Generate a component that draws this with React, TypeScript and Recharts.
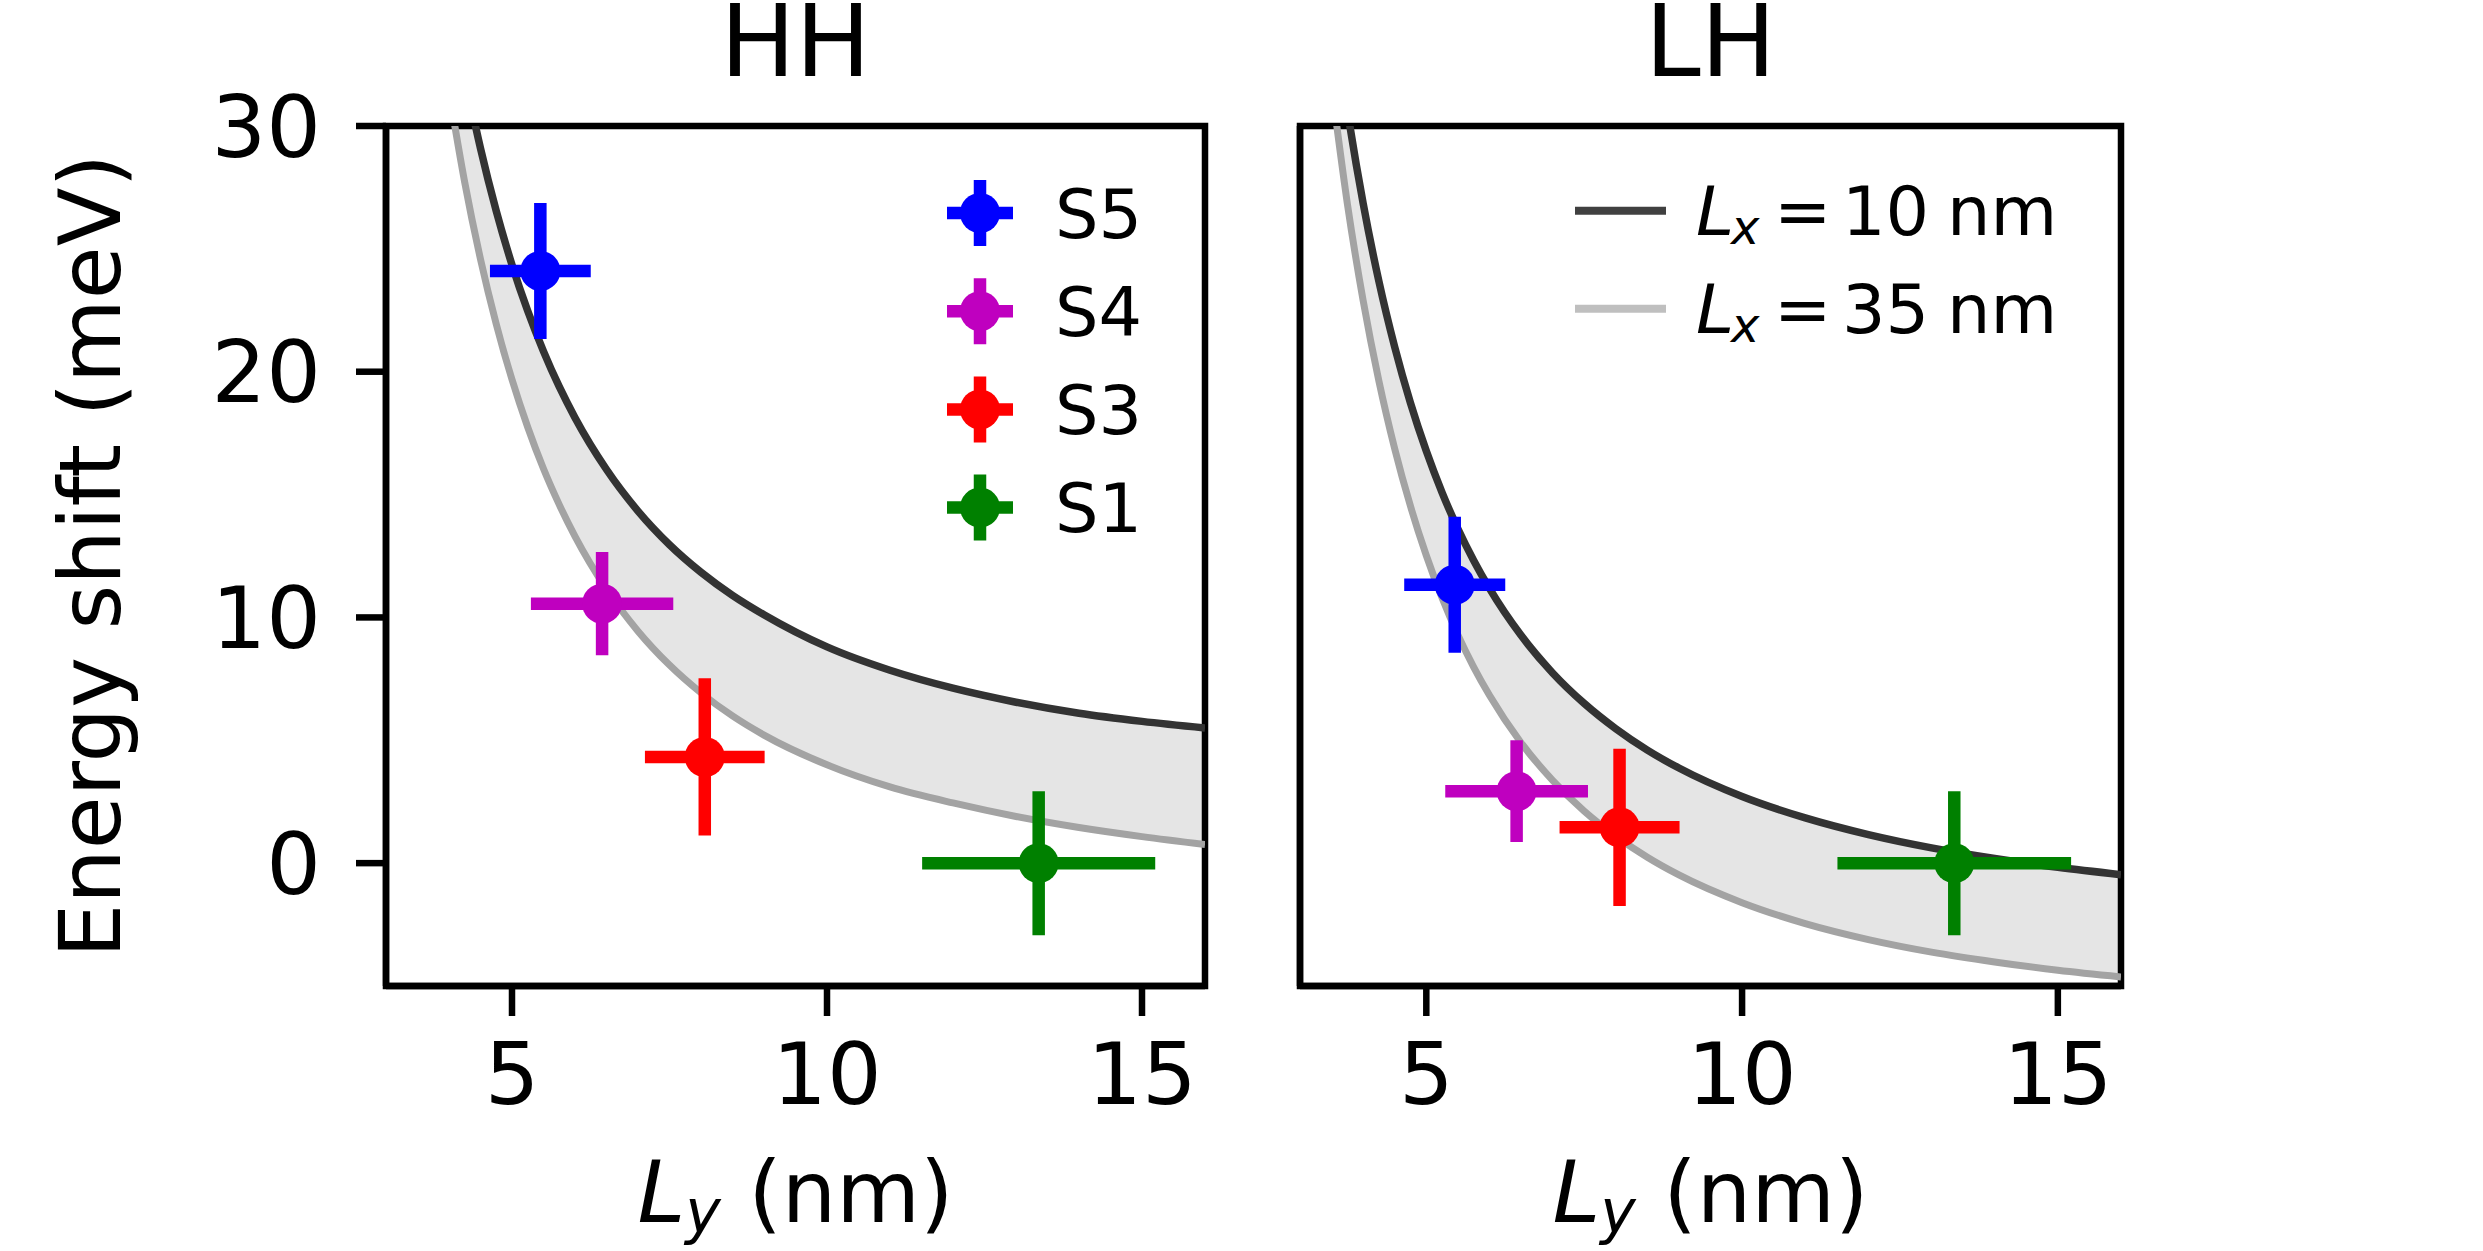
import React from 'react';
import { ComposedChart, Line, Area, Scatter, ErrorBar, XAxis, YAxis, ReferenceArea, Label, Legend } from 'recharts';

const FONT = '"DejaVu Sans", sans-serif';

// measured samples (same Ly for both bands)
const samples = ['S5', 'S4', 'S3', 'S1'];
const sampleColors = ['#0000ff', '#bf00bf', '#ff0000', '#008000'];
const sampleLy = [5.45, 6.43, 8.06, 13.36];
const sampleLyErr = [0.8, 1.13, 0.95, 1.85];

const hhShift = [24.1, 10.56, 4.32, 0];
const hhShiftErr = [2.77, 2.1, 3.2, 2.93];
const lhShift = [11.33, 2.93, 1.46, 0];
const lhShiftErr = [2.77, 2.07, 3.2, 2.93];

// model curves
const hhGrid = [4.0, 4.25, 4.5, 4.75, 5.0, 5.25, 5.5, 5.75, 6.0, 6.5, 7.0, 7.5, 8.0, 8.5, 9, 10, 11, 12, 13, 14, 15, 16];
const hhDark = [35.68, 32.1, 29.09, 26.54, 24.35, 22.47, 20.83, 19.39, 18.13, 16.02, 14.33, 12.96, 11.84, 10.9, 10.11, 8.8, 7.85, 7.12, 6.55, 6.1, 5.77, 5.5];
const hhLight = [31.42, 27.7, 24.58, 21.94, 19.68, 17.74, 16.05, 14.59, 13.3, 11.15, 9.44, 8.06, 6.93, 5.99, 5.21, 4.0, 3.1, 2.45, 1.9, 1.45, 1.08, 0.76];

const lhGrid = [3.5, 3.75, 4.0, 4.25, 4.5, 4.75, 5.0, 5.25, 5.5, 5.75, 6.0, 6.5, 7.0, 7.5, 8.0, 8.5, 9, 10, 11, 12, 13, 14, 15, 16];
const lhDark = [35.29, 30.66, 26.85, 23.67, 21.0, 18.72, 16.77, 15.08, 13.61, 12.32, 11.18, 9.27, 7.74, 6.5, 5.47, 4.6, 3.87, 2.71, 1.84, 1.16, 0.62, 0.19, -0.17, -0.47];
const lhLight = [31.65, 26.84, 22.89, 19.61, 16.86, 14.52, 12.52, 10.79, 9.29, 7.98, 6.83, 4.9, 3.37, 2.12, 1.1, 0.24, -0.48, -1.61, -2.46, -3.11, -3.62, -4.02, -4.36, -4.63];

const curveUnits = ['10', '35'];
const darkColor = '#333333';
const lightColor = '#a3a3a3';
const legendLineColors = ['#404040', '#bfbfbf'];

const xTicks = [5, 10, 15];
const yTicks = [0, 10, 20, 30];

const AX = 6.5;

const SampleLegend = () => (
  <svg width={300} height={400}>
    {samples.map((s, i) => {
      const cy = 53 + i * 98.2;
      const c = sampleColors[i];
      return (
        <g key={s}>
          <line x1={17} x2={83} y1={cy} y2={cy} stroke={c} strokeWidth={12.5} />
          <line x1={50} x2={50} y1={cy - 33} y2={cy + 33} stroke={c} strokeWidth={12.5} />
          <circle cx={50} cy={cy} r={20} fill={c} />
          <text x={125} y={cy + 24.5} fontSize={68.5} fontFamily={FONT} fill="#000">{s}</text>
        </g>
      );
    })}
  </svg>
);

const CurveLegend = () => (
  <svg width={540} height={220}>
    {curveUnits.map((u, i) => {
      const cy = 50.7 + i * 98;
      return (
        <g key={u}>
          <line x1={25} x2={116} y1={cy} y2={cy} stroke={legendLineColors[i]} strokeWidth={8} />
          <text y={cy + 24.5} fontSize={68.5} fontFamily={FONT} fill="#000">
            <tspan x={146} fontStyle="italic">L</tspan>
            <tspan x={181} dy={9} fontStyle="italic" fontSize={48}>x</tspan>
            <tspan x={224} dy={-9}>=</tspan>
            <tspan x={292}>{u}</tspan>
            <tspan x={397}>nm</tspan>
          </text>
        </g>
      );
    })}
  </svg>
);

const YLabel = (props: any) => {
  const vb = props.viewBox || { y: 126, height: 860 };
  const cy = vb.y + vb.height / 2;
  return (
    <text x={120} y={cy} transform={`rotate(-90 120 ${cy})`} textAnchor="middle" fontSize={86} fontFamily={FONT} fill="#000">
      Energy shift (meV)
    </text>
  );
};

const XLabel = (props: any) => {
  const vb = props.viewBox;
  const cx = vb.x + vb.width / 2;
  const y = vb.y + 236;
  return (
    <text x={cx} y={y} textAnchor="middle" fontSize={86} fontFamily={FONT} fill="#000" style={{ whiteSpace: 'pre' }}>
      <tspan fontStyle="italic">L</tspan>
      <tspan fontStyle="italic" fontSize={60} dy={11}>y</tspan>
      <tspan dy={-11}> (nm)</tspan>
    </text>
  );
};

type PanelProps = {
  title: string;
  grid: number[];
  dark: number[];
  light: number[];
  shift: number[];
  shiftErr: number[];
  first: boolean;
};

const Panel = ({ title, grid, dark, light, shift, shiftErr, first }: PanelProps) => {
  const curve = grid.map((ly, i) => ({ ly, dark: dark[i], light: light[i] }));
  const width = first ? 1250 : 1233;
  const yWidth = first ? 386 : 50;
  const right = first ? 45 : 362;

  return (
    <div style={{ position: 'absolute', left: first ? 0 : 1250, top: 0 }}>
      <ComposedChart width={width} height={1251} data={curve} margin={{ top: 126, right, bottom: 0, left: 0 }}>
        <XAxis
          dataKey="ly"
          type="number"
          domain={[3, 16]}
          ticks={xTicks}
          allowDataOverflow
          height={265}
          tickSize={30}
          tickMargin={27}
          tick={{ fill: '#000', fontSize: 86, fontFamily: FONT }}
          tickLine={{ stroke: '#000', strokeWidth: AX }}
          axisLine={{ stroke: '#000', strokeWidth: AX }}
        >
          <Label content={XLabel} />
        </XAxis>
        <YAxis
          type="number"
          domain={[-5, 30]}
          ticks={yTicks}
          allowDataOverflow
          width={yWidth}
          tickSize={30}
          tickMargin={35}
          tick={first ? { fill: '#000', fontSize: 86, fontFamily: FONT } : false}
          tickLine={{ stroke: '#000', strokeWidth: AX }}
          axisLine={{ stroke: '#000', strokeWidth: AX }}
        >
          {first && <Label content={YLabel} />}
        </YAxis>

        <Area
          dataKey={(d: any) => [d.light, d.dark]}
          type="monotone"
          fill="#e5e5e5"
          fillOpacity={1}
          stroke="none"
          legendType="none"
          isAnimationActive={false}
        />
        <Line dataKey="light" type="monotone" stroke={lightColor} strokeWidth={7} dot={false} legendType="none" isAnimationActive={false} />
        <Line dataKey="dark" type="monotone" stroke={darkColor} strokeWidth={7.5} dot={false} legendType="none" isAnimationActive={false} />

        {samples.map((s, i) => (
          <Scatter
            key={s}
            name={s}
            data={[{ ly: sampleLy[i], e: shift[i], xErr: sampleLyErr[i], yErr: shiftErr[i] }]}
            dataKey="e"
            fill={sampleColors[i]}
            legendType="none"
            isAnimationActive={false}
            shape={(p: any) => <circle cx={p.cx} cy={p.cy} r={20} fill={sampleColors[i]} />}
          >
            <ErrorBar dataKey="xErr" direction="x" width={0} stroke={sampleColors[i]} strokeWidth={12.5} isAnimationActive={false} />
            <ErrorBar dataKey="yErr" direction="y" width={0} stroke={sampleColors[i]} strokeWidth={12.5} isAnimationActive={false} />
          </Scatter>
        ))}

        <ReferenceArea x1={3} x2={16} y1={-5} y2={30} fill="none" stroke="#000" strokeWidth={AX} fillOpacity={0}>
          <Label value={title} position="top" offset={50} fontSize={100} fontFamily={FONT} fill="#000" />
        </ReferenceArea>

        <Legend
          layout="vertical"
          align="center"
          verticalAlign="middle"
          content={() => (first ? <SampleLegend /> : <CurveLegend />)}
          wrapperStyle={
            first
              ? { left: 930, top: 160, width: 300, height: 400 }
              : { left: 300, top: 160, width: 540, height: 220 }
          }
        />
      </ComposedChart>
    </div>
  );
}

export default function App() {
  return (
    <div style={{ position: 'absolute', left: 0, top: 0, width: 2483, height: 1251, background: '#fff', fontFamily: FONT }}>
      <Panel title="HH" grid={hhGrid} dark={hhDark} light={hhLight} shift={hhShift} shiftErr={hhShiftErr} first />
      <Panel title="LH" grid={lhGrid} dark={lhDark} light={lhLight} shift={lhShift} shiftErr={lhShiftErr} first={false} />
    </div>
  );
}
